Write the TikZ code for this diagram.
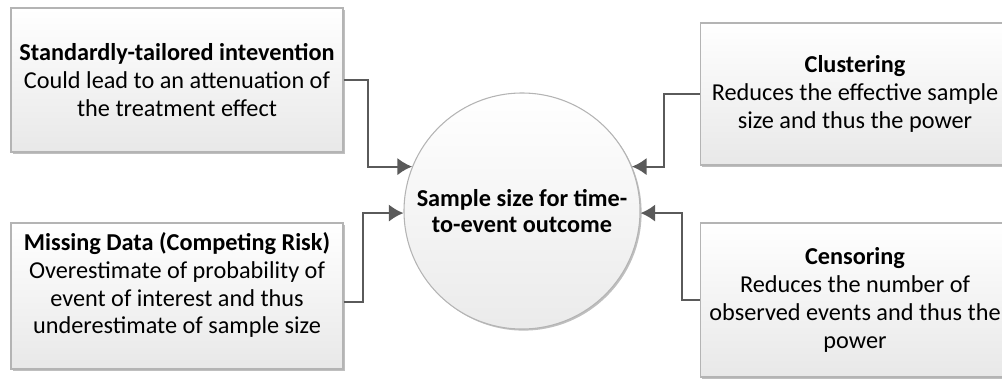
\documentclass[tikz,border=0pt]{standalone}
\usepackage{fontspec}
\setmainfont{Carlito}
\usetikzlibrary{arrows.meta,shadows}
\definecolor{linegray}{HTML}{5A5A5A}
\definecolor{boxborder}{HTML}{B4B4B4}
\tikzset{
  factor/.style={rectangle,draw=boxborder,line width=0.8pt,top color=white,bottom color=black!9,
    drop shadow={shadow xshift=1.2pt,shadow yshift=-1.2pt,opacity=0.25,fill=black},
    align=center,font=\fontsize{18.2}{20.8}\selectfont,inner sep=0pt},
  outcome/.style={circle,draw=boxborder,line width=0.8pt,top color=white,bottom color=black!8,
    drop shadow={shadow xshift=1.2pt,shadow yshift=-1.2pt,opacity=0.25,fill=black},
    minimum size=177pt,inner sep=0pt,align=center,font=\bfseries\fontsize{18.2}{19}\selectfont},
  conn/.style={draw=linegray,line width=1.5pt,-{Latex[length=11pt,width=13pt]}}
}
\begin{document}
\begin{tikzpicture}[x=0.75pt,y=-0.75pt]
  \useasboundingbox (0,0) rectangle (1002,379);
  \node[outcome] (size) at (522,211) {Sample size for time-\\to-event outcome};
  \node[factor,minimum width=249pt,minimum height=108pt] (tailored) at (177,80)
    {\textbf{Standardly-tailored intevention}\\Could lead to an attenuation of\\the treatment effect};
  \node[factor,minimum width=249pt,minimum height=109.5pt,text depth=19pt] (missing) at (177,296)
    {\textbf{Missing Data (Competing Risk)}\\Overestimate of probability of\\event of interest and thus\\underestimate of sample size};
  \node[factor,minimum width=232pt,minimum height=106.5pt] (cluster) at (855,94)
    {\textbf{Clustering}\\Reduces the effective sample\\size and thus the power};
  \node[factor,minimum width=232pt,minimum height=115.5pt] (censor) at (855,300)
    {\textbf{Censoring}\\Reduces the number of\\observed events and thus the\\power};
  % arrows
  \draw[conn] (tailored.east) -- ++(24,0) |- (size.158);
  \draw[conn] ([yshift=-4.5pt]missing.east) -- ++(19,0) |- (size.181);
  \draw[conn] (cluster.west) -- ++(-36,0) |- (size.22);
  \draw[conn] (censor.west) -- ++(-18,0) |- (size.-1);
\end{tikzpicture}
\end{document}
